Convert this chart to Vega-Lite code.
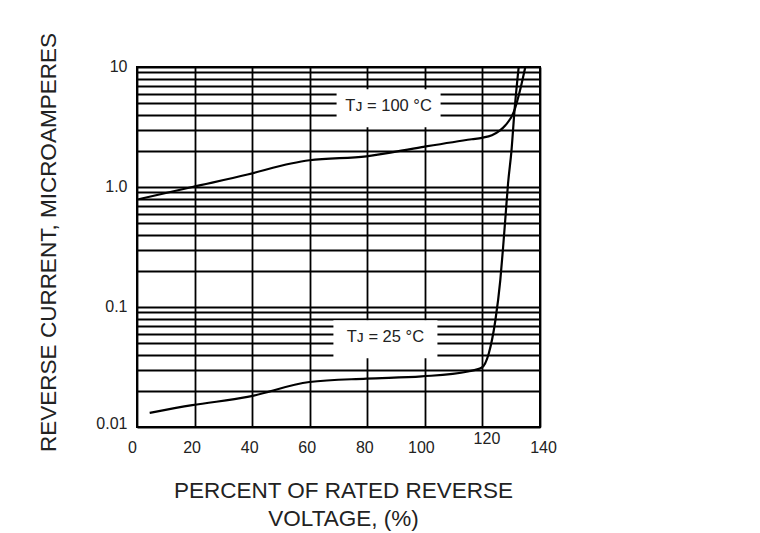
{
  "$schema": "https://vega.github.io/schema/vega-lite/v6.json",
  "width": 403,
  "height": 360,
  "autosize": {"type": "none"},
  "padding": {"left": 137, "top": 67, "right": 220, "bottom": 106},
  "background": "white",
  "config": {
    "view": {"stroke": "black", "strokeWidth": 2},
    "font": "Liberation Sans"
  },
  "datasets": {
    "curves": [
      {"series": "100", "v": 0.5, "i": 0.79},
      {"series": "100", "v": 19.2, "i": 1.0},
      {"series": "100", "v": 38.4, "i": 1.27},
      {"series": "100", "v": 53.5, "i": 1.57},
      {"series": "100", "v": 59.9, "i": 1.67},
      {"series": "100", "v": 79.7, "i": 1.8},
      {"series": "100", "v": 98.9, "i": 2.15},
      {"series": "100", "v": 116.3, "i": 2.5},
      {"series": "100", "v": 119.8, "i": 2.57},
      {"series": "100", "v": 123.3, "i": 2.7},
      {"series": "100", "v": 126, "i": 2.95},
      {"series": "100", "v": 128, "i": 3.27},
      {"series": "100", "v": 130.9, "i": 4.22},
      {"series": "100", "v": 133.2, "i": 6.6},
      {"series": "100", "v": 134.9, "i": 10},
      {"series": "25", "v": 4.4, "i": 0.0131},
      {"series": "25", "v": 19.2, "i": 0.0152},
      {"series": "25", "v": 38.4, "i": 0.0178},
      {"series": "25", "v": 59.9, "i": 0.0237},
      {"series": "25", "v": 79.7, "i": 0.0253},
      {"series": "25", "v": 98.9, "i": 0.0264},
      {"series": "25", "v": 115, "i": 0.029},
      {"series": "25", "v": 119.8, "i": 0.0313},
      {"series": "25", "v": 122.2, "i": 0.041},
      {"series": "25", "v": 124.5, "i": 0.0776},
      {"series": "25", "v": 126.2, "i": 0.167},
      {"series": "25", "v": 127.1, "i": 0.297},
      {"series": "25", "v": 128, "i": 0.562},
      {"series": "25", "v": 128.9, "i": 1.07},
      {"series": "25", "v": 130.1, "i": 2.02},
      {"series": "25", "v": 131.2, "i": 4.5},
      {"series": "25", "v": 132.6, "i": 10}
    ],
    "labels": [
      {"label": "Tᴊ = 100 °C", "v": 87.4, "i": 4.53},
      {"label": "Tᴊ = 25 °C", "v": 86.3, "i": 0.0538}
    ]
  },
  "encoding": {
    "x": {
      "field": "v",
      "type": "quantitative",
      "scale": {"domain": [0, 140], "nice": false, "zero": false},
      "axis": {
        "values": [0, 20, 40, 60, 80, 100, 120, 140],
        "grid": true,
        "gridColor": "#000000",
        "gridWidth": 1.8,
        "gridOpacity": 1,
        "ticks": false,
        "domain": false,
        "labelFont": "Liberation Sans",
        "labelFontSize": 16,
        "labelColor": "#222222",
        "labelFlush": false,
        "labelOverlap": false,
        "labelBaseline": "top",
        "labelPadding": {"condition": {"test": "datum.value == 120", "value": 3}, "value": 12},
        "labelOffset": {"condition": [
          {"test": "datum.value == 0", "value": -5},
          {"test": "datum.value == 100", "value": -4},
          {"test": "datum.value == 120", "value": 4},
          {"test": "datum.value == 140", "value": 3}
        ], "value": -3},
        "title": ["PERCENT OF RATED REVERSE", "VOLTAGE, (%)"],
        "titleFont": "Liberation Sans",
        "titleFontSize": 22.5,
        "titleFontWeight": "normal",
        "titleColor": "#222222",
        "titleLineHeight": 28,
        "titleX": 206,
        "titleY": 70,
        "titleAlign": "center",
        "titleBaseline": "alphabetic"
      }
    },
    "y": {
      "field": "i",
      "type": "quantitative",
      "scale": {"type": "log", "domain": [0.01, 10], "nice": false},
      "axis": {
        "values": [0.01, 0.02, 0.03, 0.04, 0.05, 0.06, 0.07, 0.08, 0.09, 0.1, 0.2, 0.3, 0.4, 0.5, 0.6, 0.7, 0.8, 0.9, 1, 2, 3, 4, 5, 6, 7, 8, 9, 10],
        "labelExpr": "datum.value == 10 ? '10' : datum.value == 1 ? '1.0' : datum.value == 0.1 ? '0.1' : datum.value == 0.01 ? '0.01' : ''",
        "grid": true,
        "gridColor": "#000000",
        "gridWidth": 1.8,
        "gridOpacity": 1,
        "ticks": false,
        "domain": false,
        "labelFont": "Liberation Sans",
        "labelFontSize": 16,
        "labelColor": "#222222",
        "labelFlush": false,
        "labelOverlap": false,
        "labelBaseline": "middle",
        "labelPadding": 10,
        "labelOffset": {"condition": {"test": "datum.value == 0.01", "value": -4}, "value": -1},
        "title": "REVERSE CURRENT, MICROAMPERES",
        "titleFont": "Liberation Sans",
        "titleFontSize": 22.5,
        "titleFontWeight": "normal",
        "titleColor": "#222222",
        "titleX": -82,
        "titleY": 175,
        "titleAngle": -90,
        "titleAlign": "center",
        "titleBaseline": "alphabetic"
      }
    }
  },
  "layer": [
    {
      "data": {"name": "curves"},
      "mark": {"type": "line", "color": "#000000", "strokeWidth": 2.2, "interpolate": "monotone"},
      "encoding": {"detail": {"field": "series", "type": "nominal"}}
    },
    {
      "data": {"name": "labels"},
      "mark": {
        "type": "point",
        "shape": "M-1,-0.365L1,-0.365L1,0.365L-1,0.365Z",
        "size": 10816,
        "filled": true,
        "fill": "white",
        "opacity": 1,
        "strokeWidth": 0
      }
    },
    {
      "data": {"name": "labels"},
      "mark": {
        "type": "text",
        "font": "Liberation Sans",
        "fontSize": 16.5,
        "color": "#222222",
        "align": "center",
        "baseline": "middle",
        "dy": -2
      },
      "encoding": {"text": {"field": "label", "type": "nominal"}}
    }
  ]
}
